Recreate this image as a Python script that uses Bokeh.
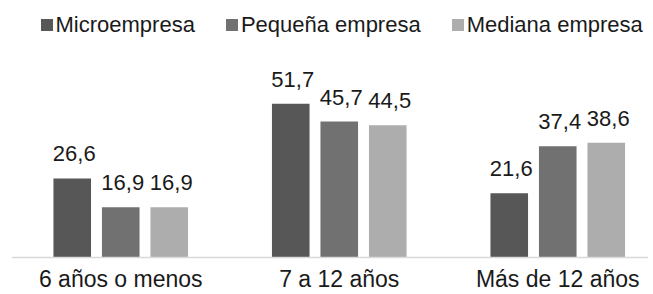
from bokeh.plotting import figure
from bokeh.models import ColumnDataSource, LabelSet, Legend, LegendItem, Range1d, Span
from bokeh.core.properties import value
from bokeh.embed import file_html
from bokeh.resources import INLINE

categories = ["6 años o menos", "7 a 12 años", "Más de 12 años"]
series = ["Microempresa", "Pequeña empresa", "Mediana empresa"]
micro = [26.6, 51.7, 21.6]
pequena = [16.9, 45.7, 37.4]
mediana = [16.9, 44.5, 38.6]
colors = ["#575757", "#717171", "#adadad"]

FONT = "Liberation Sans"
W, H = 653, 294
BAR_W = 0.172
OFFS = [-0.222, 0.0, 0.222]

# frame spans whole height; y<0 region holds the category labels
p = figure(width=W, height=H, output_backend="svg", toolbar_location=None,
           x_range=Range1d(0, 2.9153), y_range=Range1d(-12.44, 86.4),
           x_axis_location=None, y_axis_location=None,
           min_border_left=11, min_border_right=5,
           min_border_top=0, min_border_bottom=0)
p.xgrid.visible = False
p.ygrid.visible = False
p.outline_line_color = None
p.background_fill_color = "white"
p.border_fill_color = "white"

centers = [i + 0.5 for i in range(len(categories))]

# baseline (category axis line)
p.add_layout(Span(location=0, dimension="width", line_color="#d9d9d9", line_width=1.5))

items = []
for vals, name, col, off in zip([micro, pequena, mediana], series, colors, OFFS):
    src = ColumnDataSource(dict(
        x=[c + off for c in centers],
        top=vals,
        lbl=[f"{v:.1f}".replace(".", ",") for v in vals],
    ))
    r = p.vbar(x="x", top="top", width=BAR_W, bottom=0, source=src,
               fill_color=col, line_color=None)
    items.append(LegendItem(label=name, renderers=[r]))
    ls = LabelSet(x="x", y="top", text="lbl", source=src, text_align="center",
                  text_baseline="alphabetic", x_offset=2, y_offset=17,
                  text_font=value(FONT), text_font_size=value("22px"),
                  text_color="#1a1a1a")
    p.add_layout(ls)

# category labels under the baseline
cat_src = ColumnDataSource(dict(x=centers, y=[0] * len(categories), t=categories))
p.add_layout(LabelSet(x="x", y="y", text="t", source=cat_src, text_align="center",
                      text_baseline="alphabetic", y_offset=-30,
                      text_font=value(FONT), text_font_size=value("23px"),
                      text_color="#1a1a1a"))

legend = Legend(items=items, orientation="horizontal", location=(27.5, 256.5),
                glyph_width=15, glyph_height=15, label_standoff=2, spacing=29,
                padding=0, margin=0, border_line_color=None,
                background_fill_alpha=0, label_text_font=FONT,
                label_text_font_size="22px", label_text_color="#1a1a1a")
p.add_layout(legend, "center")

open("out.html", "w").write(file_html(p, INLINE))
